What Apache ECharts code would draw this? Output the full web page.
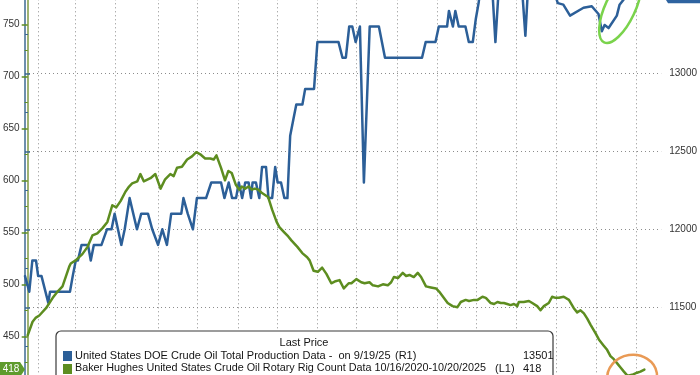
<!DOCTYPE html>
<html><head><meta charset="utf-8">
<script src="https://cdn.jsdelivr.net/npm/echarts@6/dist/echarts.min.js"></script>
<style>html,body{margin:0;padding:0;background:#fff;overflow:hidden;width:700px;height:375px;position:relative}
#c{position:absolute;left:0;top:-30px;width:700px;height:435px}</style>
</head><body><div id="c"></div>
<script>
// x unit: weeks from the left edge of the plot
const prodWeeks = [0,1.4,2.4,3.6,4.3,5.4,7.6,8.2,14.7,15.6,16.6,17.3,18.5,20.6,21.5,22.5,25.0,26.8,28.3,29.3,
  31.5,32.6,34.2,36.6,38.0,40.2,41.6,43.5,44.9,46.4,47.8,51.1,51.8,53.2,53.8,54.9,56.2,59.2,60.9,64.1,
  65.2,66.6,67.7,69.0,69.9,71.0,72.0,73.1,73.9,74.4,75.5,76.6,77.5,78.8,79.6,80.8,81.8,82.6,83.7,84.8,
  85.8,86.7,87.7,88.7,90.7,91.6,94.5,95.6,102.5,103.8,104.9,106.0,107.0,108.1,108.7,109.5,110.8,112.7,115.7,117.7,
  129.8,131.0,134.2,135.3,138.0,138.6,139.9,140.7,141.8,144.0,145.1,146.4,147.4,148.3,149.3,152.6,153.8,154.9,162.3,163.6,
  164.6,172.5,174.2,176.0,178.2,182.6,185.3,187.5,188.6,189.5,190.8,193.5,194.4,196.0,197.9];
const prodValues = [11700,11600,11800,11800,11700,11700,11530,11600,11600,11700,11800,11800,11900,11900,11800,11900,11900,12000,12000,12100,
  11900,12000,12200,12000,12100,12100,12000,11900,12000,11900,12100,12100,12200,12100,12100,12000,12200,12200,12300,12300,
  12200,12300,12200,12200,12300,12200,12300,12300,12200,12300,12300,12200,12400,12400,12200,12200,12400,12300,12300,12200,
  12200,12600,12700,12800,12800,12900,12900,13200,13200,13100,13100,13300,13300,13200,13200,13300,12300,13300,13300,13100,
  13100,13200,13200,13300,13300,13400,13300,13400,13300,13300,13200,13200,13350,13450,13600,13600,13200,13550,13600,13240,
  13600,13550,13450,13440,13370,13420,13430,13380,13270,13310,13290,13370,13440,13480,13501];

const rigWeeks = [0,1.6,2.7,3.8,6.0,8.2,9.8,11.4,13.6,14.1,15.7,17.9,19.6,21.2,22.8,24.5,26.1,27.7,29.0,30.4,
  32.0,33.2,34.2,35.9,36.9,38.0,40.2,41.8,43.5,45.0,46.7,47.8,48.9,50.5,52.2,53.8,55.2,56.5,58.1,59.8,
  60.9,61.8,63.3,64.6,65.7,66.8,68.1,69.3,70.1,71.2,72.3,73.4,74.4,75.5,76.6,78.7,80.0,81.5,82.4,84.0,
  85.3,86.4,88.3,89.9,91.5,92.3,93.6,95.0,96.4,97.8,99.4,100.8,102.1,103.5,105.1,106.0,107.6,109.2,110.3,111.9,
  113.0,114.7,116.3,117.9,119.0,119.9,121.2,122.8,123.9,125.0,126.4,127.7,128.8,130.4,132.0,133.7,134.7,137.5,139.1,140.7,
  141.8,143.4,144.5,146.1,147.3,148.9,150.0,151.6,152.7,153.8,154.9,155.9,157.0,158.1,159.2,160.3,160.8,162.4,164.1,165.2,
  166.8,167.9,169.0,170.6,171.7,172.8,173.9,175.5,177.2,178.8,179.9,181.0,182.1,183.2,184.3,185.9,187.0,188.6,189.7,190.8,
  191.9,193.0,194.1,195.2,196.4,197.9,199.5,200.6,201.9];
const rigValues = [451,464,468,470,477,487,493,498,517,520,523,529,536,547,549,554,560,576,574,580,
  589,594,597,599,606,599,602,606,592,601,606,604,612,613,620,623,627,625,621,621,
  620,624,612,600,609,607,596,591,594,592,594,591,592,591,588,584,572,560,555,550,
  546,542,536,530,526,523,513,512,516,510,501,503,504,496,501,501,505,502,501,502,
  499,498,500,499,502,507,506,511,508,509,507,511,507,498,497,496,493,482,479,478,
  483,485,484,485,485,488,487,482,481,483,482,482,481,480,481,479,483,483,484,482,
  479,475,479,482,488,487,487,488,485,477,473,475,472,467,461,453,447,441,437,431,
  428,424,420,416,412,413,415,416,418];

const gridWeeks = [3.5,15.6,28.8,42.6,55.6,68.8,81.8,94.9,107.6,120.9,134.0,147.0,160.1,173.1,186.1,199.1];

const prodName = 'United States DOE Crude Oil Total Production Data -  on 9/19/25';
const rigName = 'Baker Hughes United States Crude Oil Rotary Rig Count Data 10/16/2020-10/20/2025';
const prodLast = 13501;
const rigLast = 418;

const BLUE = '#2c5f98', GREEN = '#5d8d20';
const FONT = '"Liberation Sans", Arial, sans-serif';
const dotted = {type:[1,3], color:'#8c8c8c', width:1};
const OFF = 30; // chart canvas starts 30px above the visible page

const chart = echarts.init(document.getElementById('c'), null, {renderer:'canvas'});
const prodData = prodWeeks.map((w,i)=>[w, prodValues[i]]);
const rigData = rigWeeks.map((w,i)=>[w, rigValues[i]]);

chart.setOption({
  animation:false,
  backgroundColor:'#ffffff',
  grid:[{left:25,right:37,top:2.3,bottom:16.7},{left:25,right:37,top:9.7,bottom:19.7}],
  xAxis:[{type:'value',gridIndex:0,min:0,max:208,show:false},
         {type:'value',gridIndex:1,min:0,max:208,show:false}],
  yAxis:[
    {type:'value',gridIndex:0,position:'left',min:400,max:800,interval:50,
     axisLine:{show:true,lineStyle:{color:'#7f9a44',width:1.5}},
     axisTick:{show:true,length:6,lineStyle:{color:'#5d8d20',width:1.5}},
     minorTick:{show:true,splitNumber:2,length:3,lineStyle:{color:'#5d8d20',width:1}},
     axisLabel:{color:'#333',fontSize:10,fontFamily:FONT,margin:8,formatter:v=>(v>=450&&v<=750)?String(v):''},
     splitLine:{show:false}},
    {type:'value',gridIndex:1,position:'right',min:11000,max:13600,interval:500,
     axisLine:{show:true,lineStyle:{color:'#3d6a92',width:1.5}},
     axisTick:{show:true,length:5,lineStyle:{color:'#3d6a92',width:1.5}},
     minorTick:{show:true,splitNumber:2,length:3,lineStyle:{color:'#3d6a92',width:1}},
     axisLabel:{color:'#333',fontSize:10,fontFamily:FONT,margin:8,formatter:v=>(v>=11500&&v<=13000)?String(v):''},
     splitLine:{show:true,lineStyle:dotted}}
  ],
  series:[
    {type:'line',name:'prod',xAxisIndex:1,yAxisIndex:1,data:prodData,symbol:'none',z:3,
     lineStyle:{color:BLUE,width:2.5,join:'round',cap:'round'}},
    {type:'line',name:'rig',xAxisIndex:0,yAxisIndex:0,data:rigData,symbol:'none',z:4,
     lineStyle:{color:GREEN,width:2.5,join:'round',cap:'round'},
     markLine:{silent:true,symbol:['none','none'],z:1,label:{show:false},lineStyle:dotted,
       emphasis:{disabled:true},animation:false,
       data:gridWeeks.map(w=>({xAxis:w}))}}
  ]
});

const yRig = chart.convertToPixel({yAxisIndex:0}, rigLast);
const yProd = chart.convertToPixel({yAxisIndex:1}, prodLast);
const gC = chart.convertToPixel({gridIndex:1}, [194.6, 13419]);
const oC = chart.convertToPixel({gridIndex:0}, [197.9, 411]);
const axL = 25, axR = 663;

const txt = (x,y,text,size,align)=>({type:'text',x:x,y:y+OFF,z:102,
  style:{text:text,fill:'#141414',font:(size||11)+'px '+FONT,verticalAlign:'middle',align:align||'left'}});

chart.setOption({graphic:[
  {type:'ellipse',x:gC[0],y:gC[1],rotation:65*Math.PI/180,z:90,
   shape:{cx:0,cy:0,rx:38,ry:15},style:{fill:'none',stroke:'#7ad34c',lineWidth:2.5}},
  {type:'ellipse',x:oC[0],y:oC[1],rotation:0.15,z:90,
   shape:{cx:0,cy:0,rx:25,ry:22},style:{fill:'none',stroke:'#e99a55',lineWidth:2.5}},
  {type:'polygon',z:95,shape:{points:[[0,yRig-7.5],[axL-5,yRig-7.5],[axL,yRig],[axL-5,yRig+7.5],[0,yRig+7.5]]},
   style:{fill:'#5e9b2c'}},
  {type:'text',x:11,y:yRig,z:96,style:{text:String(rigLast),fill:'#fff',font:'10px '+FONT,align:'center',verticalAlign:'middle'}},
  {type:'polygon',z:95,shape:{points:[[axR,yProd],[axR+5,yProd-8],[700,yProd-8],[700,yProd+8],[axR+5,yProd+8]]},
   style:{fill:'#2e63a0'}},
  {type:'text',x:683,y:yProd,z:96,style:{text:String(prodLast),fill:'#fff',font:'10px '+FONT,align:'center',verticalAlign:'middle'}},
  {type:'rect',z:100,shape:{x:56,y:331+OFF,width:497,height:60,r:[5,5,0,0]},
   style:{fill:'#fff',stroke:'#3a3a3a',lineWidth:1.2}},
  txt(304,343,'Last Price',11,'center'),
  {type:'rect',z:101,shape:{x:63,y:351+OFF,width:9,height:10},style:{fill:BLUE}},
  {type:'rect',z:101,shape:{x:63,y:364+OFF,width:9,height:10},style:{fill:GREEN}},
  txt(75,356,prodName,11),
  txt(395,356,'(R1)',11),
  txt(523,356,String(prodLast),11),
  txt(75,368.5,rigName,10.8),
  txt(495,368.5,'(L1)',11),
  txt(523,368.5,String(rigLast),11)
]});
</script>
</body></html>
